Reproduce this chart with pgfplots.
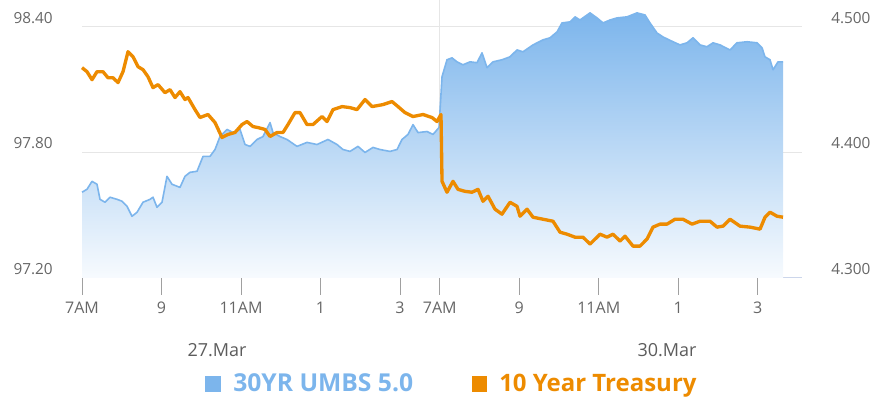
\documentclass[border=0pt]{standalone}
\usepackage{fontspec}
\setmainfont{Open Sans}
\usepackage{pgfplots}
\usepackage{pgfplotstable}
\pgfplotsset{compat=1.18}
\definecolor{umbs}{RGB}{124,181,236}
\definecolor{tsy}{RGB}{237,139,0}
\definecolor{gridgray}{RGB}{230,230,230}
\definecolor{axisblue}{RGB}{204,214,235}
\definecolor{tickgray}{RGB}{160,160,160}
\definecolor{labgray}{RGB}{102,102,102}

\pgfplotstableread{
x y
0.000 97.610
0.126 97.624
0.252 97.662
0.377 97.648
0.453 97.576
0.579 97.562
0.704 97.586
0.881 97.576
1.006 97.567
1.132 97.543
1.258 97.495
1.384 97.514
1.535 97.562
1.711 97.576
1.786 97.586
1.887 97.538
2.013 97.562
2.138 97.686
2.264 97.648
2.465 97.633
2.591 97.686
2.717 97.705
2.893 97.710
3.044 97.781
3.220 97.781
3.346 97.814
3.472 97.876
3.648 97.910
3.799 97.895
3.975 97.910
4.101 97.838
4.226 97.829
4.403 97.862
4.553 97.876
4.730 97.943
4.805 97.895
4.981 97.876
5.157 97.862
5.409 97.829
5.660 97.848
5.912 97.838
6.189 97.862
6.415 97.838
6.566 97.814
6.742 97.805
6.943 97.829
7.119 97.800
7.321 97.824
7.497 97.814
7.748 97.805
7.925 97.814
8.050 97.862
8.201 97.886
8.327 97.933
8.453 97.895
8.679 97.900
8.830 97.886
8.981 97.919
9.057 98.162
9.182 98.243
9.308 98.252
9.434 98.233
9.585 98.219
9.761 98.233
9.937 98.229
10.063 98.276
10.189 98.205
10.340 98.233
10.566 98.243
10.767 98.257
10.943 98.290
11.094 98.281
11.346 98.314
11.597 98.338
11.774 98.348
11.950 98.376
12.075 98.419
12.277 98.424
12.403 98.448
12.528 98.433
12.780 98.467
12.956 98.443
13.107 98.419
13.283 98.433
13.459 98.443
13.711 98.448
13.962 98.467
14.164 98.457
14.289 98.419
14.465 98.371
14.616 98.352
14.868 98.329
15.044 98.314
15.220 98.324
15.371 98.348
15.547 98.314
15.723 98.305
15.874 98.324
16.050 98.314
16.302 98.290
16.478 98.324
16.730 98.329
16.981 98.324
17.107 98.300
17.182 98.257
17.308 98.243
17.384 98.195
17.509 98.233
17.635 98.233
}\umbsdata

\pgfplotstableread{
x y
0.000 4.4675
0.126 4.4643
0.252 4.4579
0.377 4.4643
0.528 4.4643
0.654 4.4595
0.780 4.4595
0.906 4.4556
1.031 4.4643
1.157 4.4802
1.283 4.4762
1.409 4.4683
1.535 4.4659
1.660 4.4603
1.786 4.4516
1.912 4.4540
2.088 4.4476
2.214 4.4500
2.340 4.4437
2.465 4.4484
2.591 4.4421
2.667 4.4437
2.843 4.4341
2.969 4.4278
3.170 4.4302
3.346 4.4238
3.522 4.4119
3.673 4.4143
3.849 4.4159
4.025 4.4222
4.151 4.4246
4.302 4.4206
4.428 4.4198
4.604 4.4183
4.730 4.4127
4.906 4.4159
5.057 4.4159
5.182 4.4222
5.358 4.4317
5.484 4.4317
5.660 4.4222
5.811 4.4222
6.038 4.4286
6.164 4.4246
6.314 4.4341
6.541 4.4365
6.742 4.4357
6.918 4.4341
7.119 4.4421
7.296 4.4365
7.572 4.4381
7.799 4.4405
7.950 4.4365
8.126 4.4317
8.327 4.4286
8.579 4.4302
8.805 4.4278
8.931 4.4246
9.031 4.4302
9.057 4.3770
9.182 4.3683
9.333 4.3770
9.459 4.3706
9.635 4.3690
9.811 4.3683
9.962 4.3706
10.088 4.3611
10.214 4.3651
10.390 4.3548
10.566 4.3508
10.767 4.3603
10.943 4.3571
11.019 4.3492
11.195 4.3548
11.346 4.3484
11.597 4.3468
11.849 4.3452
12.025 4.3365
12.201 4.3349
12.403 4.3325
12.604 4.3325
12.780 4.3270
13.031 4.3349
13.208 4.3325
13.358 4.3349
13.535 4.3294
13.660 4.3333
13.862 4.3254
14.038 4.3254
14.214 4.3310
14.365 4.3405
14.541 4.3429
14.717 4.3429
14.918 4.3468
15.119 4.3468
15.346 4.3429
15.547 4.3452
15.799 4.3452
15.975 4.3405
16.126 4.3413
16.302 4.3468
16.553 4.3413
16.805 4.3405
17.057 4.3389
17.182 4.3484
17.308 4.3524
17.484 4.3492
17.635 4.3484
}\tsydata

\begin{document}
\begin{tikzpicture}
\path[use as bounding box] (0,0) rectangle (657.75pt,301.5pt);
\begin{axis}[
  at={(61.5pt,93pt)}, anchor=south west,
  scale only axis, width=540pt, height=208.5pt,
  xmin=0, xmax=18.113, ymin=97.20, ymax=98.5286,
  axis x line*=bottom, axis y line*=left,
  x axis line style={draw=axisblue, line width=0.75pt},
  y axis line style={draw=none},
  xtick={0,2,4,6,8,9,11,13,15,17},
  xticklabels={7AM,9,11AM,1,3,7AM,9,11AM,1,3},
  tick align=outside, major tick length=12.75pt,
  xtick style={draw=tickgray, line width=0.75pt},
  ytick style={draw=none},
  ytick={97.2,97.8,98.4},
  yticklabels={97.20,97.80,98.40},
  ymajorgrids, grid style={draw=gridgray, line width=0.75pt},
  xticklabel style={font=\fontsize{12pt}{14pt}\selectfont, text=labgray, anchor=base, inner sep=0pt, yshift=-14.25pt},
  yticklabel style={font=\fontsize{11.5pt}{14pt}\selectfont, text=labgray, anchor=base east, inner sep=0pt, xshift=-9pt, yshift=2.6pt},
  clip=false,
]
\draw[gridgray, line width=0.75pt] (axis cs:9,97.2) -- (axis cs:9,98.5286);
\addplot[draw=none, top color=umbs, bottom color=umbs!6] table[x=x,y=y] {\umbsdata} \closedcycle;
\addplot[umbs, line width=1.2pt, line join=round] table[x=x,y=y] {\umbsdata};
\end{axis}
\begin{axis}[
  at={(61.5pt,93pt)}, anchor=south west,
  scale only axis, width=540pt, height=208.5pt,
  xmin=0, xmax=18.113, ymin=4.30, ymax=4.5214,
  axis x line=none, axis y line*=right,
  y axis line style={draw=none},
  ytick style={draw=none},
  ytick={4.3,4.4,4.5},
  yticklabels={4.300,4.400,4.500},
  yticklabel style={font=\fontsize{11.5pt}{14pt}\selectfont, text=labgray, anchor=base west, inner sep=0pt, xshift=21.75pt, yshift=2.6pt},
  clip=false,
]
\addplot[tsy, line width=2.5pt, line join=round] table[x=x,y=y] {\tsydata};
\end{axis}
\node[anchor=base, inner sep=0pt, text=labgray!90!black, font=\fontsize{13.5pt}{16pt}\selectfont] at (162.75pt,33.75pt) {27.Mar};
\node[anchor=base, inner sep=0pt, text=labgray!90!black, font=\fontsize{13.5pt}{16pt}\selectfont] at (500.25pt,33.75pt) {30.Mar};
\fill[umbs] (153.75pt,7.5pt) rectangle (165.75pt,19.5pt);
\node[anchor=base west, inner sep=0pt, text=umbs, font=\bfseries\fontsize{18.5pt}{20pt}\selectfont] at (174.75pt,7.5pt) {30YR UMBS 5.0};
\fill[tsy] (354pt,7.5pt) rectangle (365.25pt,19.5pt);
\node[anchor=base west, inner sep=0pt, text=tsy, font=\bfseries\fontsize{18pt}{20pt}\selectfont] at (374.25pt,7.5pt) {10 Year Treasury};
\end{tikzpicture}
\end{document}
